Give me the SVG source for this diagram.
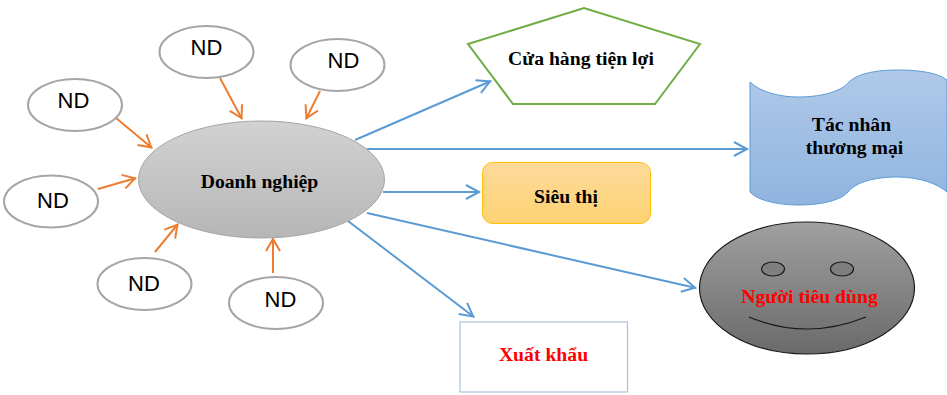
<svg xmlns="http://www.w3.org/2000/svg" width="947" height="395" viewBox="0 0 947 395">
<defs>
<linearGradient id="gGray" x1="0" y1="0" x2="0" y2="1"><stop offset="0" stop-color="#d2d2d2"/><stop offset="1" stop-color="#b6b6b6"/></linearGradient>
<linearGradient id="gBlue" x1="0" y1="0" x2="0" y2="1"><stop offset="0" stop-color="#b0c9e8"/><stop offset="1" stop-color="#90b4e0"/></linearGradient>
<linearGradient id="gGold" x1="0" y1="0" x2="0" y2="1"><stop offset="0" stop-color="#fdda9c"/><stop offset="1" stop-color="#fed272"/></linearGradient>
<linearGradient id="gDark" x1="0" y1="0" x2="0" y2="1"><stop offset="0" stop-color="#a0a0a0"/><stop offset="1" stop-color="#6a6a6a"/></linearGradient>
<marker id="aO" markerUnits="userSpaceOnUse" markerWidth="20" markerHeight="20" refX="15" refY="8" orient="auto" overflow="visible"><path d="M2 1L14 8L2 15" fill="none" stroke="#ed7d31" stroke-width="2"/></marker>
<marker id="aB" markerUnits="userSpaceOnUse" markerWidth="20" markerHeight="20" refX="15" refY="8" orient="auto" overflow="visible"><path d="M1 1L14 8L1 15" fill="none" stroke="#5b9bd5" stroke-width="2"/></marker>
</defs>
<style>
.nd{fill:#fff;stroke:#a5a5a5;stroke-width:2}
.ndt{font:22px "Liberation Sans",Arial,sans-serif;fill:#000;text-anchor:middle}
.lb{font:bold 19.700px "Liberation Serif","Times New Roman",serif;fill:#000;text-anchor:middle}
.red{fill:#f00}
.co{fill:none;stroke:#ed7d31;stroke-width:2;marker-end:url(#aO)}
.cb{fill:none;stroke:#5b9bd5;stroke-width:2;marker-end:url(#aB)}
</style>
<g id="connectors">
<path class="co" d="M116 118L152 148"/>
<path class="co" d="M220 78L242 119"/>
<path class="co" d="M320 91L306 119"/>
<path class="co" d="M98 189L136 178"/>
<path class="co" d="M155 252L178 224"/>
<path class="co" d="M273 273L273 238"/>
<path class="cb" d="M355 140L491 81"/>
<path class="cb" d="M367 149L748 149"/>
<path class="cb" d="M383 192L480 192"/>
<path class="cb" d="M367 213L696 288"/>
<path class="cb" d="M348 221L474 317"/>
</g>
<g id="n1"><ellipse class="nd" cx="75" cy="105" rx="47" ry="26"/><text class="ndt" x="73.500" y="108">ND</text></g>
<g id="n2"><ellipse class="nd" cx="206.500" cy="52" rx="47" ry="26"/><text class="ndt" x="206.500" y="55">ND</text></g>
<g id="n3"><ellipse class="nd" cx="337.500" cy="65" rx="47" ry="26"/><text class="ndt" x="343.500" y="68">ND</text></g>
<g id="n4"><ellipse class="nd" cx="51" cy="201.500" rx="47" ry="26"/><text class="ndt" x="53" y="208">ND</text></g>
<g id="n5"><ellipse class="nd" cx="144.500" cy="284" rx="47" ry="26"/><text class="ndt" x="144" y="291">ND</text></g>
<g id="n6"><ellipse class="nd" cx="276" cy="303" rx="47" ry="26"/><text class="ndt" x="280.500" y="307">ND</text></g>
<g id="doanh-nghiep"><ellipse cx="261.500" cy="179.500" rx="123" ry="58.500" fill="url(#gGray)" stroke="#a5a5a5"/><text class="lb" x="259.500" y="188">Doanh nghiệp</text></g>
<g id="cua-hang"><path d="M468 44L584 8L700 44L655 104L513 104Z" fill="#fff" stroke="#70ad47" stroke-width="2"/><text class="lb" x="581" y="65">Cửa hàng tiện lợi</text></g>
<g id="tac-nhan"><path d="M750 82C760 92 780 97 798 97C825 97 842 90 848 83C856 74 875 70 898 70C920 70 938 73 947 80V192C938 184 920 177 897 177C875 177 856 182 848 192C842 199 825 205 798 205C780 205 758 201 750 192Z" fill="url(#gBlue)" stroke="#5b9bd5"/><text class="lb" x="851.500" y="130.500">Tác nhân</text><text class="lb" x="854.500" y="153.500">thương mại</text></g>
<g id="sieu-thi"><rect x="482.500" y="162.500" width="168" height="61" rx="10" fill="url(#gGold)" stroke="#ffc000"/><text class="lb" x="566" y="203">Siêu thị</text></g>
<g id="nguoi-tieu-dung"><ellipse cx="807" cy="288" rx="107.500" ry="66" fill="url(#gDark)" stroke="#1a1a1a" stroke-width="1.200"/><ellipse cx="773" cy="269" rx="11.500" ry="7" fill="#7f7f7f" stroke="#1a1a1a" stroke-width="1.200"/><ellipse cx="842" cy="269" rx="11.500" ry="7" fill="#7f7f7f" stroke="#1a1a1a" stroke-width="1.200"/><path d="M749 317Q807 341 866 317" fill="none" stroke="#1a1a1a" stroke-width="1.200"/><text class="lb red" x="809.500" y="303">Người tiêu dùng</text></g>
<g id="xuat-khau"><rect x="460" y="322" width="167.500" height="70" fill="#fff" stroke="#adc0d9" stroke-width="1.200"/><text class="lb red" x="543.500" y="361">Xuất khẩu</text></g>
</svg>
